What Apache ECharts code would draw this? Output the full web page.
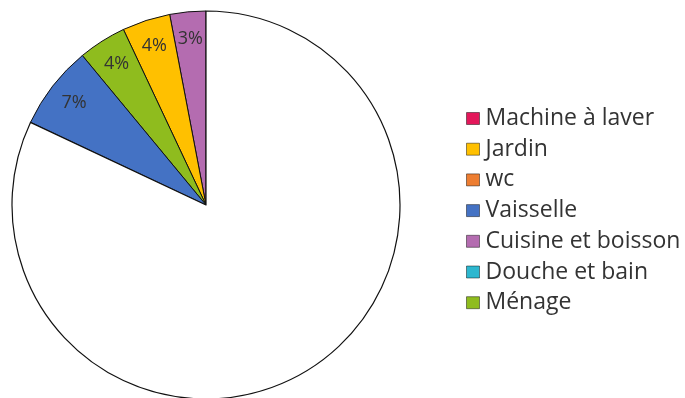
<!DOCTYPE html>
<html>
<head>
<meta charset="utf-8">
<script src="https://cdn.jsdelivr.net/npm/echarts@6/dist/echarts.min.js"></script>
<style>html,body{margin:0;padding:0;background:#fff;}#c{width:685px;height:398px;}</style>
</head>
<body>
<div id="c"></div>
<script>
// Legend categories (order as in the legend)
const legendNames = ['Machine à laver', 'Jardin', 'wc', 'Vaisselle', 'Cuisine et boisson', 'Douche et bain', 'Ménage'];
const legendColors = ['#e3175a', '#ffc000', '#ed7d31', '#4472c4', '#b46cb0', '#2db7cf', '#8fbc1e'];
// Slice order, counter-clockwise from 12 o'clock
const sliceNames = ['Cuisine et boisson', 'Jardin', 'Ménage', 'Vaisselle', 'Machine à laver', 'wc', 'Douche et bain'];
const sliceValues = [3, 4, 4, 7, 0, 0, 0];
const restValue = 82; // white remainder

const colorOf = n => legendColors[legendNames.indexOf(n)];

const mainData = sliceNames.map((n, i) => ({
  name: n, value: sliceValues[i],
  itemStyle: { color: colorOf(n), borderWidth: sliceValues[i] > 0 ? 1 : 0 }
}));
mainData.push({ name: '', value: restValue, itemStyle: { color: '#ffffff' } });

const labelData = sliceNames.map((n, i) => ({
  name: n, value: sliceValues[i],
  label: { show: sliceValues[i] > 0 }
}));
labelData.push({ name: '', value: restValue, label: { show: false } });

const chart = echarts.init(document.getElementById('c'), null, { renderer: 'canvas' });
chart.setOption({
  animation: false,
  backgroundColor: '#ffffff',
  legend: {
    orient: 'vertical',
    left: 461,
    top: 102,
    data: legendNames,
    icon: 'rect',
    itemWidth: 13,
    itemHeight: 12,
    itemGap: 7.7,
    selectedMode: false,
    itemStyle: { borderWidth: 1, borderColor: 'rgba(0,0,0,0.45)' },
    textStyle: { fontFamily: 'Open Sans', fontSize: 23, color: '#333333', padding: [0, 0, 0, 1] }
  },
  series: [
    {
      type: 'pie',
      center: [206, 205],
      radius: [0, 194],
      startAngle: 90,
      clockwise: false,
      silent: true,
      label: { show: false },
      labelLine: { show: false },
      itemStyle: { borderColor: '#111111', borderWidth: 1.2 },
      data: mainData
    },
    {
      type: 'pie',
      center: [206, 205],
      radius: [134, 194],
      startAngle: 90,
      clockwise: false,
      silent: true,
      legendHoverLink: false,
      itemStyle: { color: 'rgba(0,0,0,0)', borderWidth: 0 },
      label: {
        position: 'inside',
        formatter: p => p.value + '%',
        fontFamily: 'Open Sans',
        fontSize: 18,
        color: '#333333'
      },
      labelLine: { show: false },
      data: labelData
    }
  ]
});
</script>
</body>
</html>
